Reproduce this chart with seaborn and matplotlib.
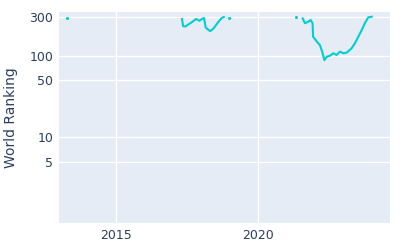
import numpy as np
import pandas as pd
import matplotlib
matplotlib.use("Agg")
import matplotlib.pyplot as plt
import seaborn as sns

# Decimal-year dates, world ranking, and segment ids (gaps between segments)
years = [2013.26,
         2017.32, 2017.36, 2017.45, 2017.53, 2017.60, 2017.70, 2017.82, 2017.94,
         2018.03, 2018.10, 2018.16, 2018.22, 2018.32, 2018.43, 2018.58, 2018.72, 2018.80,
         2018.98,
         2021.36,
         2021.59, 2021.67, 2021.79, 2021.87, 2021.94, 2021.96, 2022.09, 2022.20,
         2022.28, 2022.36, 2022.44, 2022.56, 2022.67, 2022.79, 2022.91, 2023.03,
         2023.15, 2023.32, 2023.44, 2023.56, 2023.68, 2023.79, 2023.91, 2024.03]
ranks = [290,
         282, 230, 228, 240, 248, 262, 282, 268,
         282, 290, 222, 212, 200, 214, 252, 288, 298,
         290,
         298,
         287, 250, 261, 274, 250, 171, 149, 135,
         112, 88, 97, 100, 107, 102, 112, 107,
         109, 123, 142, 171, 206, 250, 295, 300]
segments = [0,
            1, 1, 1, 1, 1, 1, 1, 1,
            1, 1, 1, 1, 1, 1, 1, 1, 1,
            2,
            3,
            4, 4, 4, 4, 4, 4, 4, 4,
            4, 4, 4, 4, 4, 4, 4, 4,
            4, 4, 4, 4, 4, 4, 4, 4]

y_ticks = [300, 100, 50, 10, 5]
x_ticks = [2015, 2020]

df = pd.DataFrame({"year": years, "rank": ranks, "seg": segments})
counts = df["seg"].value_counts()
singles = df[df["seg"].map(counts) == 1]

color = "#00CED1"
text_color = "#2a3f5f"

fig = plt.figure(figsize=(4, 2.5), dpi=100)
ax = fig.add_axes([0.1475, 0.107, 0.8275, 0.845])
ax.set_facecolor("#E5ECF6")

sns.lineplot(data=df, x="year", y="rank", units="seg", estimator=None,
             color=color, linewidth=1.5, ax=ax, sort=False)
sns.scatterplot(data=singles, x="year", y="rank", color=color, s=5,
                linewidth=0, ax=ax, zorder=3)

ax.set_yscale("log")
ax.set_ylim(0.883, 343)
ax.set_xlim(2012.97, 2024.68)
ax.set_yticks(y_ticks)
ax.set_yticklabels([str(t) for t in y_ticks])
ax.yaxis.set_minor_locator(matplotlib.ticker.NullLocator())
ax.set_xticks(x_ticks)
ax.set_xticklabels([str(t) for t in x_ticks])

ax.grid(True, color="white", linewidth=1)
ax.set_axisbelow(True)
for s in ax.spines.values():
    s.set_visible(False)
ax.tick_params(length=0, colors=text_color, labelsize=9, pad=4)
ax.set_xlabel("")
ax.set_ylabel("World Ranking", color=text_color, fontsize=10, labelpad=8)

fig.savefig("out.png", dpi=100)
